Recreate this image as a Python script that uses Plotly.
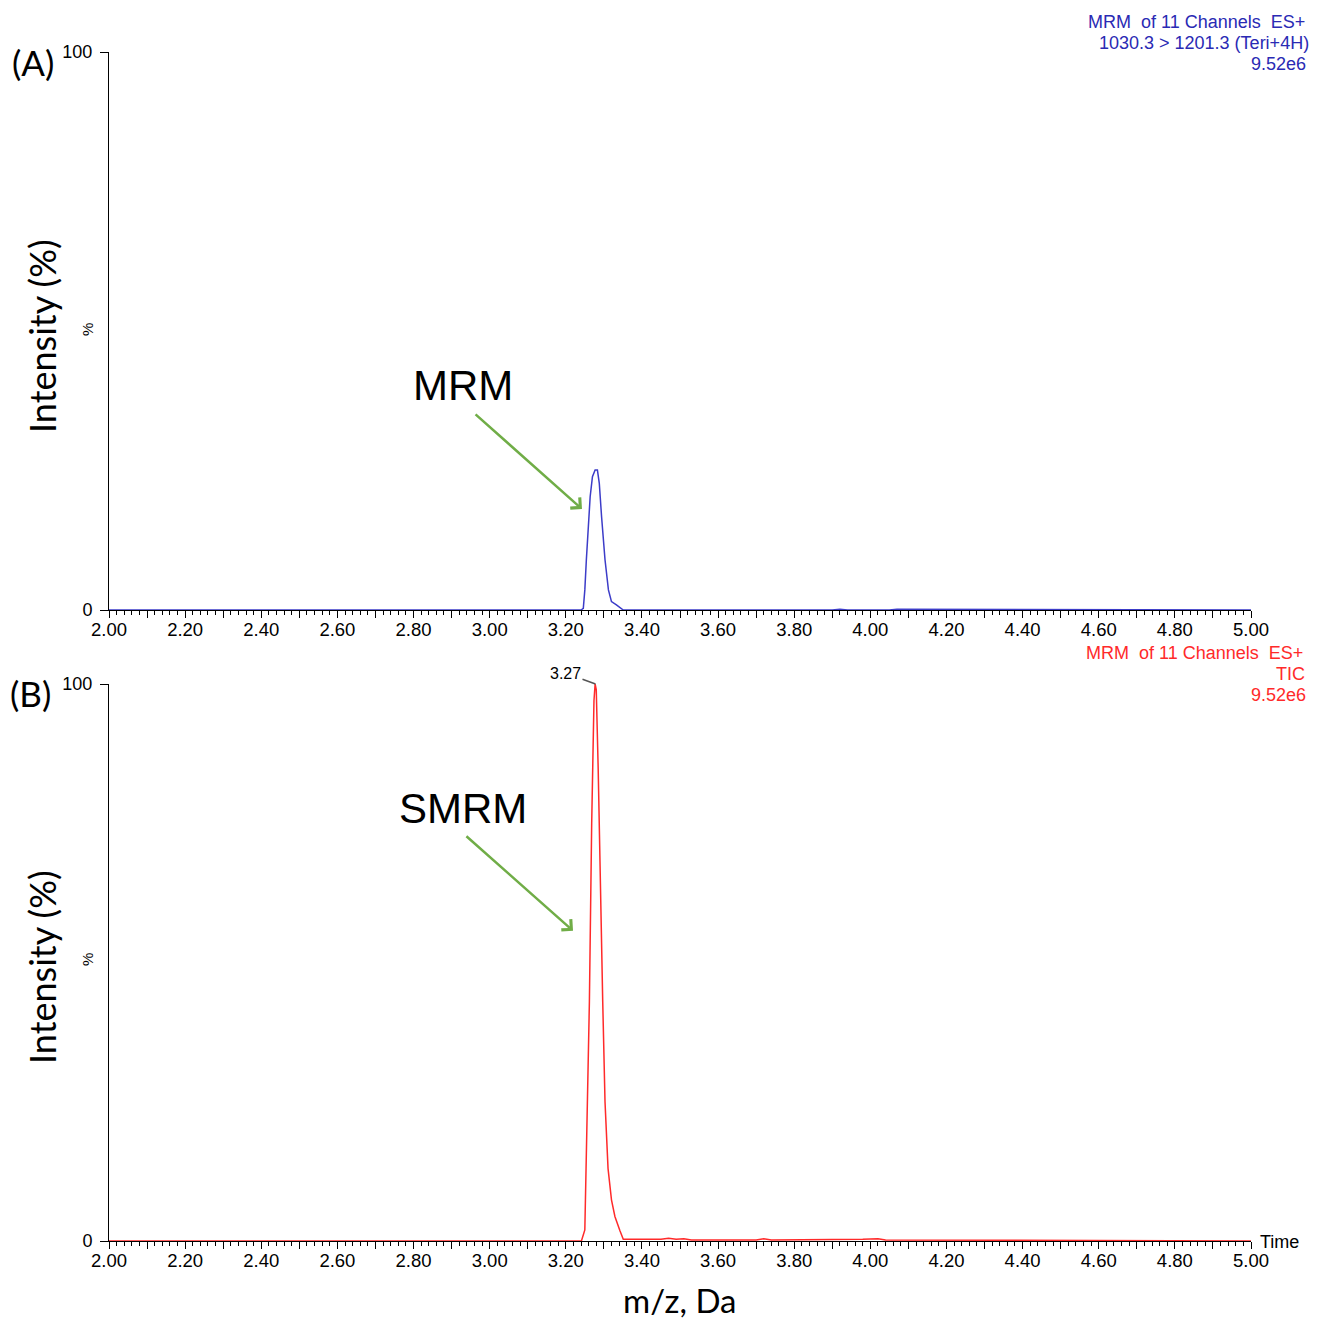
import plotly.graph_objects as go

# ---- data ----
time_a = [2.00, 3.240, 3.246, 3.250, 3.254, 3.259, 3.264, 3.270, 3.277, 3.283, 3.288,
          3.294, 3.303, 3.312, 3.320, 3.333, 3.351, 3.90, 3.92, 3.94, 4.05, 4.07, 5.00]
int_a = [0, 0, 0.3, 3.6, 9.0, 15.6, 20.3, 23.9, 25.1, 25.1, 22.7,
         16.7, 9.0, 3.6, 1.5, 0.9, 0, 0, 0.15, 0, 0, 0.15, 0]

time_b = [2.00, 3.230, 3.241, 3.250, 3.256, 3.262, 3.268, 3.274, 3.277, 3.280, 3.285,
          3.291, 3.297, 3.303, 3.311, 3.320, 3.329, 3.342, 3.351, 3.45, 3.47, 3.49,
          3.51, 3.53, 3.70, 3.72, 3.74, 3.98, 4.00, 4.02, 4.04, 5.00]
int_b = [0, 0, 0, 2, 20, 43, 75, 97, 100, 99, 85,
         62, 43, 25, 13, 7.4, 4.4, 1.9, 0.3, 0.3, 0.5, 0.3,
         0.4, 0.2, 0.2, 0.4, 0.2, 0.3, 0.4, 0.4, 0.2, 0]

x_tick_vals = [2.0, 2.1, 2.2, 2.3, 2.4, 2.5, 2.6, 2.7, 2.8, 2.9, 3.0, 3.1, 3.2, 3.3, 3.4,
               3.5, 3.6, 3.7, 3.8, 3.9, 4.0, 4.1, 4.2, 4.3, 4.4, 4.5, 4.6, 4.7, 4.8, 4.9, 5.0]
x_tick_text = ["2.00", "", "2.20", "", "2.40", "", "2.60", "", "2.80", "", "3.00", "", "3.20", "",
               "3.40", "", "3.60", "", "3.80", "", "4.00", "", "4.20", "", "4.40", "", "4.60", "",
               "4.80", "", "5.00"]
y_tick_vals = [0, 100]
y_tick_text = ["0", "100"]

peak_label = "3.27"
peak_time = 3.278

header_a = ["MRM  of 11 Channels  ES+", "1030.3 > 1201.3 (Teri+4H)", "9.52e6"]
header_b = ["MRM  of 11 Channels  ES+", "TIC", "9.52e6"]

W, H = 1321, 1320
ARIAL = "Liberation Sans, Arial, sans-serif"
CAL = "Lato, Carlito, Calibri, sans-serif"

fig = go.Figure()
fig.add_trace(go.Scatter(x=time_a, y=int_a, mode="lines", line=dict(color="#3c3cc8", width=1.5),
                         xaxis="x", yaxis="y", showlegend=False, hoverinfo="skip"))
fig.add_trace(go.Scatter(x=time_b, y=int_b, mode="lines", line=dict(color="#ff2a2a", width=1.5),
                         xaxis="x2", yaxis="y2", showlegend=False, hoverinfo="skip"))

xdom = [109 / W, 1251 / W]
ya_dom = [1 - 610 / H, 1 - 52 / H]
yb_dom = [1 - 1241 / H, 1 - 684 / H]


def xaxis_cfg(anchor):
    return dict(domain=xdom, range=[2, 5], anchor=anchor, showline=True, linecolor="black",
                linewidth=1, ticks="outside", ticklen=7, tickcolor="black", tickwidth=1,
                tickvals=x_tick_vals, ticktext=x_tick_text, showgrid=False, zeroline=False,
                automargin=False, ticklabelstandoff=-4,
                tickfont=dict(family=ARIAL, size=18.5, color="black"), layer="below traces",
                minor=dict(dtick=0.02, tick0=2, ticks="outside", ticklen=4, tickcolor="black",
                           tickwidth=1, showgrid=False))


def yaxis_cfg(anchor, dom):
    return dict(domain=dom, range=[0, 100], anchor=anchor, showline=True, linecolor="black",
                linewidth=1, ticks="outside", ticklen=8, tickcolor="black", automargin=False,
                tickvals=y_tick_vals, ticktext=y_tick_text, showgrid=False, zeroline=False,
                ticklabelstandoff=4,
                tickfont=dict(family=ARIAL, size=18, color="black"), layer="below traces")


fig.update_layout(
    template="none",
    width=W, height=H, margin=dict(l=0, r=0, t=0, b=0, autoexpand=False),
    paper_bgcolor="white", plot_bgcolor="white",
    xaxis=xaxis_cfg("y"), yaxis=yaxis_cfg("x", ya_dom),
    xaxis2=xaxis_cfg("y2"), yaxis2=yaxis_cfg("x2", yb_dom),
)


def ptext(x, y, text, font, xanchor="center", angle=0):
    return dict(xref="paper", yref="paper", x=x / W, y=1 - y / H, xanchor=xanchor, yanchor="middle",
                showarrow=False, text=text, textangle=angle, font=font)


ann = []
# headers (one annotation per line)
for i, (txt, xr) in enumerate(zip(header_a, [1307, 1311, 1308])):
    ann.append(ptext(xr, 22 + 21 * i, txt, dict(family=ARIAL, size=18, color="#2a2ab4"), "right"))
for i, (txt, xr) in enumerate(zip(header_b, [1305, 1307, 1308])):
    ann.append(ptext(xr, 653 + 21 * i, txt, dict(family=ARIAL, size=18, color="#ff2a2a"), "right"))
# panel letters
ann.append(ptext(33, 62, "(A)", dict(family=CAL, size=35, color="black")))
ann.append(ptext(30, 693, "(B)", dict(family=CAL, size=35, color="black")))
# y titles
for yc in (336, 967):
    ann.append(ptext(42, yc, "Intensity (%)", dict(family=CAL, size=36, color="black"), angle=-90))
for yc in (330, 960):
    ann.append(ptext(87, yc, "%", dict(family=ARIAL, size=15, color="black"), angle=-90))
# x title
ann.append(ptext(680, 1300, "m/z, Da", dict(family=CAL, size=33, color="black")))
ann.append(ptext(1258, 1242, "Time", dict(family=ARIAL, size=18, color="black"), "left"))
# MRM / SMRM labels with arrows
ann.append(dict(xref="x", yref="y", x=2.930, y=40.2, xanchor="center", yanchor="middle",
                showarrow=False, text="MRM", font=dict(family=ARIAL, size=42, color="black")))
ann.append(dict(xref="x", yref="y", axref="x", ayref="y", x=3.2425, y=18.1, ax=2.959, ay=35.3,
                showarrow=True, arrowhead=4, arrowsize=1.1, arrowwidth=2.5, arrowcolor="#70ad47", text=""))
ann.append(dict(xref="x2", yref="y2", x=2.930, y=77.7, xanchor="center", yanchor="middle",
                showarrow=False, text="SMRM", font=dict(family=ARIAL, size=42, color="black")))
ann.append(dict(xref="x2", yref="y2", axref="x2", ayref="y2", x=3.219, y=55.7, ax=2.935, ay=72.9,
                showarrow=True, arrowhead=4, arrowsize=1.1, arrowwidth=2.5, arrowcolor="#70ad47", text=""))
# peak label
ann.append(dict(xref="x2", yref="y2", x=peak_time, y=100, ax=-30, ay=-11, showarrow=True,
                arrowhead=0, arrowwidth=1.5, arrowcolor="#555555", text=peak_label,
                font=dict(family=ARIAL, size=16, color="black")))
fig.update_layout(annotations=ann)

fig.write_html("out.html")
